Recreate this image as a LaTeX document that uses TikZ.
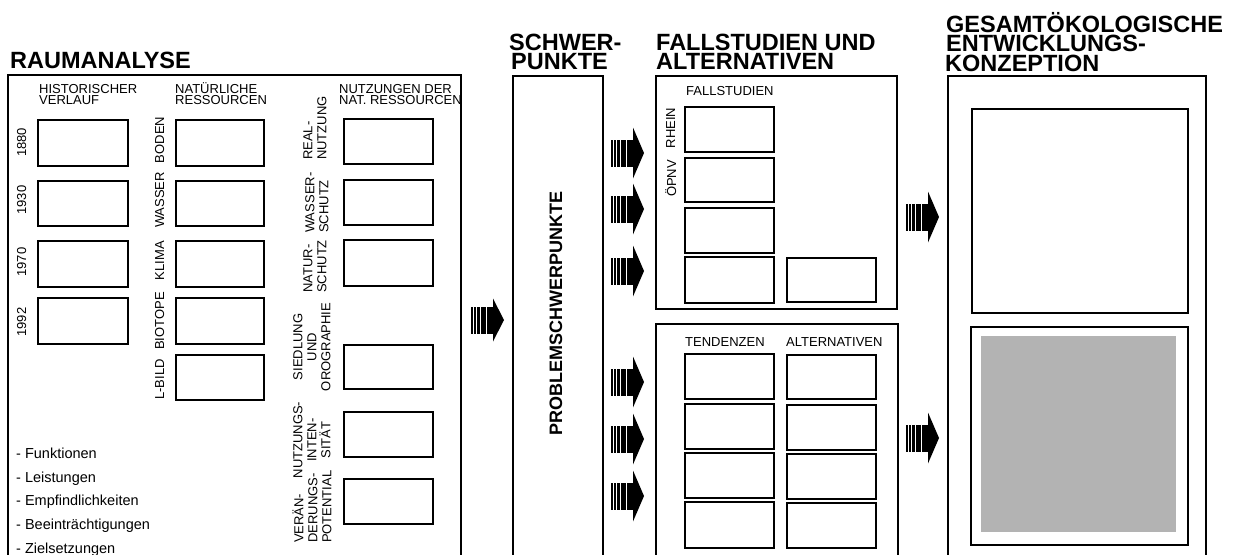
\documentclass[tikz,border=0pt]{standalone}
\usepackage{fontspec}
\setmainfont{Liberation Sans}
\definecolor{fillgray}{HTML}{B3B3B3}
\newcommand\bx[6][]{\node[box,#1,anchor=north west,minimum width={(#5-#3)*1pt},minimum height={(#6-#4)*1pt}] (#2) at (#3,#4) {};}
\tikzset{
  box/.style={draw, line width=2pt, inner sep=0pt, outer sep=0pt},
  head/.style={font=\fontsize{23.5}{23.5}\selectfont\bfseries, inner sep=0pt, anchor=base west},
  lbl/.style={font=\fontsize{13}{10.5}\selectfont, inner sep=0pt, anchor=base west},
  rot/.style={font=\fontsize{13}{13}\selectfont, inner sep=0pt, rotate=90, anchor=base},
  rotm/.style={font=\fontsize{13}{14}\selectfont, inner sep=0pt, rotate=90},
  item/.style={font=\fontsize{14.5}{14.5}\selectfont, inner sep=0pt, anchor=base west},
  sarrow/.pic={
    \fill (0,-13.5) rectangle (1.6,13.5);
    \fill (2.8,-13.5) rectangle (4.8,13.5);
    \fill (6,-13.5) rectangle (9,13.5);
    \fill (10.2,-13.5) rectangle (14.6,13.5);
    \fill (15.6,-13.5) rectangle (22.5,13.5);
    \fill (22,-25.5) -- (33,0) -- (22,25.5) -- cycle;
  },
  sarrowsmall/.pic={
    \fill (0,-13.5) rectangle (1.6,13.5);
    \fill (2.8,-13.5) rectangle (4.8,13.5);
    \fill (6,-13.5) rectangle (9,13.5);
    \fill (10.2,-13.5) rectangle (14.6,13.5);
    \fill (15.6,-13.5) rectangle (22.5,13.5);
    \fill (22,-21.5) -- (33,0) -- (22,21.5) -- cycle;
  }
}
\begin{document}
\begin{tikzpicture}[x=1pt,y=-1pt]
\useasboundingbox (0,0) rectangle (1238,554);
\clip (0,0) rectangle (1238,554);
\fill[white] (0,0) rectangle (1238,554);

% ---------- headings ----------
\node[head] (t1) at (10,68) {RAUMANALYSE};
\node[head] (t2a) at (509,50) {SCHWER-};
\node[head] (t2b) at (511,69) {PUNKTE};
\node[head] (t3a) at (656,50) {FALLSTUDIEN UND};
\node[head] (t3b) at (656,69) {ALTERNATIVEN};
\node[head] (t4a) at (946,32) {GESAMTÖKOLOGISCHE};
\node[head] (t4b) at (946,51) {ENTWICKLUNGS-};
\node[head] (t4c) at (945,71) {KONZEPTION};

% ---------- column labels ----------
\node[lbl] (l1a) at (39,93) {HISTORISCHER};
\node[lbl] (l1b) at (39,104) {VERLAUF};
\node[lbl] (l2a) at (175,93) {NATÜRLICHE};
\node[lbl] (l2b) at (175,104) {RESSOURCEN};
\node[lbl] (l3a) at (339,93) {NUTZUNGEN DER};
\node[lbl] (l3b) at (339,104) {NAT. RESSOURCEN};

% ---------- Raumanalyse frame ----------
\bx{ra}{8}{75}{461}{620}

% column 1 boxes
\foreach \a/\b [count=\i] in {120/166,181/226,241/287,298/344}
  {\bx{h\i}{38}{\a}{128}{\b}}
% column 2 boxes
\foreach \a/\b [count=\i] in {120/166,181/226,241/287,298/344,355/400}
  {\bx{n\i}{176}{\a}{264}{\b}}
% column 3 boxes
\foreach \a/\b [count=\i] in {119/164,180/225,240/286,345/389,412/457,479/524}
  {\bx{u\i}{344}{\a}{433}{\b}}

% years
\node[rot] (y1) at (26,142.5) {1880};
\node[rot] (y2) at (26,200) {1930};
\node[rot] (y3) at (26,262) {1970};
\node[rot] (y4) at (26,322) {1992};

% natural resources labels
\node[rot] (r1) at (164,140) {BODEN};
\node[rot] (r2) at (164,200) {WASSER};
\node[rot] (r3) at (164,260.5) {KLIMA};
\node[rot] (r4) at (164,321) {BIOTOPE};
\node[rot] (r5) at (164,379.5) {L-BILD};

% uses labels
\node[rotm, align=left, anchor=west] (s1) at (315,160) {REAL-\\NUTZUNG};
\node[rotm, align=left, anchor=west] (s2) at (317,233) {WASSER-\\SCHUTZ};
\node[rotm, align=left, anchor=west] (s3) at (315,293) {NATUR-\\SCHUTZ};
\node[rotm, align=center, anchor=center] (s4) at (312,347) {SIEDLUNG\\UND\\OROGRAPHIE};
\node[rotm, align=center, anchor=center] (s5) at (312,440) {NUTZUNGS-\\INTEN-\\SITÄT};
\node[rotm, align=left, anchor=west] (s6) at (312,543) {VERÄN-\\DERUNGS-\\POTENTIAL};

% list
\node[item] (i1) at (16,458) {- Funktionen};
\node[item] (i2) at (16,482) {- Leistungen};
\node[item] (i3) at (16,505) {- Empfindlichkeiten};
\node[item] (i4) at (16,529) {- Beeinträchtigungen};
\node[item] (i5) at (16,553) {- Zielsetzungen};

% ---------- Schwerpunkte ----------
\bx{sp}{513}{76}{603}{620}
\node[rot, font=\fontsize{18}{18}\selectfont\bfseries] (pk) at (562,313) {PROBLEMSCHWERPUNKTE};

% ---------- Fallstudien ----------
\bx{fs}{656}{76}{897}{309}
\node[lbl] (fl) at (686,95) {FALLSTUDIEN};
\foreach \a/\b [count=\i] in {107/152,158/202,208/253,257/303}
  {\bx{f\i}{685}{\a}{774}{\b}}
\bx{f5}{787}{258}{876}{302}
\node[rot] (rh) at (675,128) {RHEIN};
\node[rot] (op) at (676,178.5) {ÖPNV};

% ---------- Tendenzen / Alternativen ----------
\bx{ta}{656}{324}{898}{620}
\node[lbl] (tl) at (685,346) {TENDENZEN};
\node[lbl] (al) at (786,346) {ALTERNATIVEN};
\foreach \a/\b [count=\i] in {354/399,404/449,453/498,502/548}
  {\bx{te\i}{685}{\a}{774}{\b}}
\foreach \a/\b [count=\i] in {355/399,405/450,454/499,503/548}
  {\bx{al\i}{787}{\a}{876}{\b}}

% ---------- Gesamtkonzeption ----------
\bx{gk}{948}{76}{1206}{620}
\bx{g1}{972}{109}{1188}{313}
\bx{g2}{971}{327}{1188}{545}
\node[fill=fillgray, inner sep=0pt, anchor=north west, minimum width=195pt, minimum height=196pt] (gg) at (981,336) {};

% ---------- arrows ----------
\pic (a0) at (471,320) {sarrowsmall};
\pic (a1) at (611,153) {sarrow};
\pic (a2) at (611,209) {sarrow};
\pic (a3) at (611,271) {sarrow};
\pic (a4) at (611,382) {sarrow};
\pic (a5) at (611,439) {sarrow};
\pic (a6) at (611,496) {sarrow};
\pic (a7) at (906,217) {sarrow};
\pic (a8) at (906,438) {sarrow};
\end{tikzpicture}
\end{document}
